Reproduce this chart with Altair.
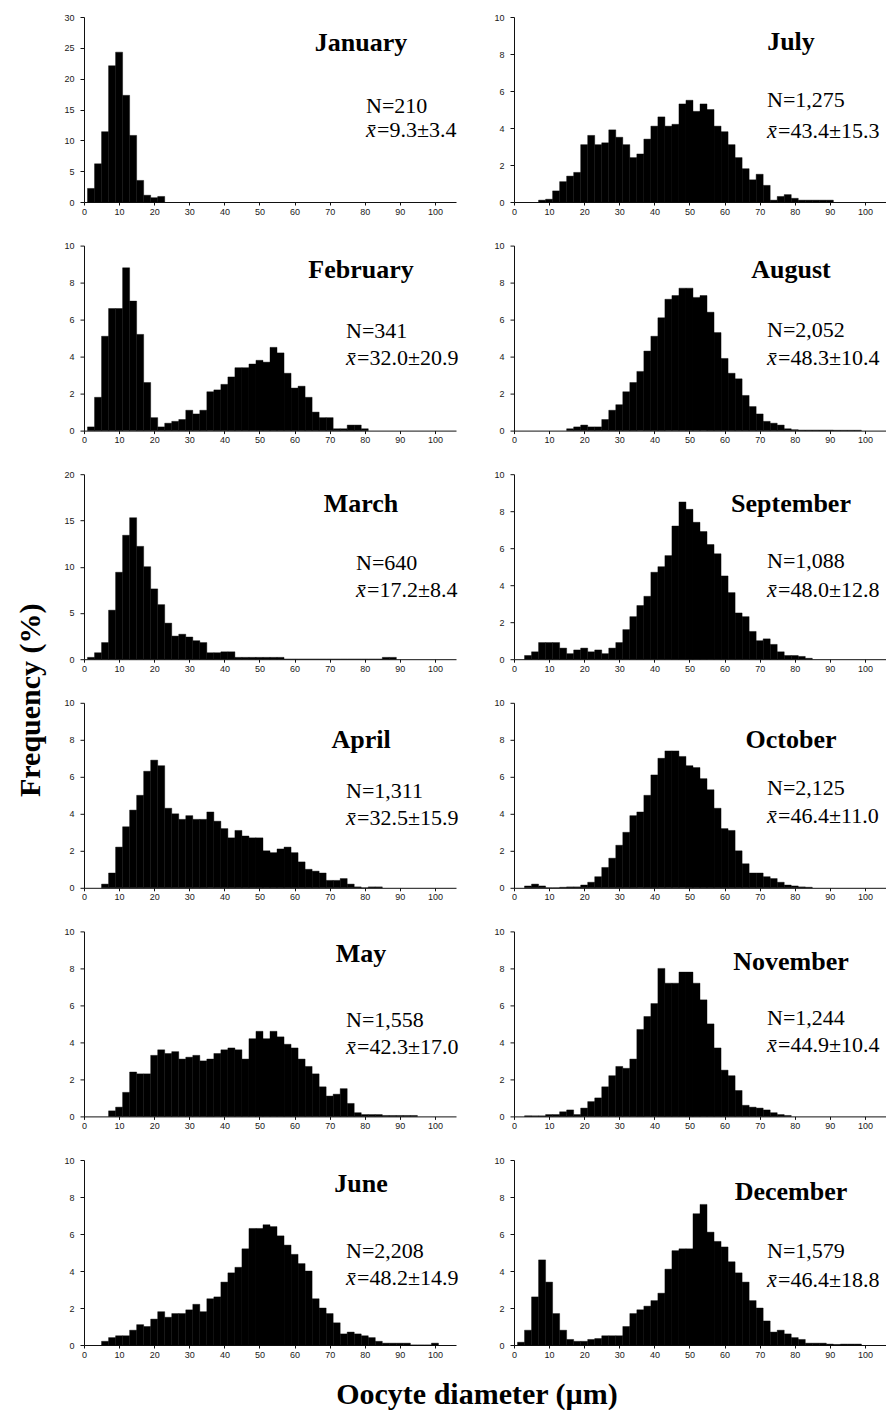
import altair as alt
import pandas as pd

# ---------------- data (percent frequency per 2-µm class; first class centre given) ----------------
months = ["January", "February", "March", "April", "May", "June",
          "July", "August", "September", "October", "November", "December"]

jan_start = 2
jan = [2.2, 6.2, 11.4, 22.1, 24.3, 17.3, 10.8, 3.5, 1.1, 0.7, 0.9]

feb_start = 2
feb = [0.2, 1.8, 5.1, 6.6, 6.6, 8.8, 7.0, 5.2, 2.6, 0.7, 0.2, 0.4, 0.5, 0.6, 1.1, 0.9, 1.1,
       2.1, 2.2, 2.5, 2.9, 3.4, 3.4, 3.6, 3.8, 3.7, 4.5, 4.2, 3.1, 2.3, 2.4, 1.8, 1.0, 0.7,
       0.7, 0.1, 0.1, 0.3, 0.3, 0.1]

mar_start = 2
mar = [0.2, 0.7, 1.8, 5.3, 9.4, 13.4, 15.3, 12.2, 10.0, 7.6, 5.9, 3.9, 2.5, 2.7, 2.4, 2.0,
       1.8, 0.7, 0.7, 0.8, 0.8, 0.2, 0.2, 0.2, 0.2, 0.2, 0.2, 0.2, 0, 0, 0, 0, 0, 0, 0, 0,
       0, 0, 0, 0, 0, 0, 0.2, 0.2]

apr_start = 6
apr = [0.2, 0.8, 2.2, 3.3, 4.2, 5.0, 6.3, 6.9, 6.6, 4.3, 4.0, 3.7, 3.9, 3.7, 3.7, 4.1, 3.6,
       3.2, 2.7, 3.1, 2.8, 2.7, 2.7, 2.0, 1.9, 2.1, 2.2, 1.9, 1.4, 1.0, 0.9, 0.8, 0.4, 0.4,
       0.5, 0.2, 0.05, 0.0, 0.05, 0.05]

may_start = 8
may = [0.3, 0.5, 1.3, 2.4, 2.3, 2.3, 3.3, 3.6, 3.4, 3.5, 3.1, 3.2, 3.3, 3.0, 3.1, 3.4, 3.6,
       3.7, 3.6, 3.1, 4.2, 4.6, 4.2, 4.6, 4.3, 3.9, 3.7, 3.1, 2.7, 2.3, 1.6, 1.1, 1.2, 1.5,
       0.7, 0.2, 0.1, 0.1, 0.1, 0.05, 0.05, 0.05, 0.05, 0.05]

jun_start = 6
jun = [0.2, 0.4, 0.5, 0.5, 0.8, 1.1, 1.0, 1.4, 1.8, 1.5, 1.7, 1.7, 1.9, 2.2, 1.8, 2.5, 2.6,
       3.4, 3.9, 4.2, 5.2, 6.3, 6.3, 6.5, 6.4, 5.9, 5.4, 4.9, 4.4, 4.0, 2.5, 2.0, 1.7, 1.2,
       0.6, 0.7, 0.6, 0.5, 0.4, 0.2, 0.1, 0.1, 0.1, 0.1, 0, 0, 0, 0.1]

jul_start = 8
jul = [0.1, 0.15, 0.6, 1.1, 1.4, 1.6, 3.1, 3.6, 3.1, 3.2, 3.9, 3.5, 3.1, 2.4, 2.6, 3.4, 4.1,
       4.6, 4.1, 4.2, 5.3, 5.5, 4.9, 5.3, 5.0, 4.1, 3.8, 3.1, 2.4, 1.8, 1.2, 1.5, 0.9, 0.1,
       0.3, 0.4, 0.2, 0.1, 0.1, 0.1, 0.1, 0.1]

aug_start = 16
aug = [0.1, 0.2, 0.3, 0.2, 0.2, 0.6, 1.1, 1.4, 2.1, 2.6, 3.2, 4.3, 5.1, 6.1, 7.1, 7.3, 7.7,
       7.7, 7.2, 7.3, 6.4, 5.3, 3.9, 3.1, 2.8, 1.9, 1.3, 0.9, 0.5, 0.4, 0.3, 0.1, 0.05, 0.03,
       0.03, 0.03, 0.03, 0.03, 0.02, 0.02, 0.02, 0.02]

sep_start = 4
sep = [0.2, 0.4, 0.9, 0.9, 0.9, 0.6, 0.3, 0.5, 0.6, 0.4, 0.5, 0.3, 0.6, 0.9, 1.6, 2.3, 2.9,
       3.4, 4.7, 5.0, 5.6, 7.2, 8.5, 8.1, 7.4, 6.9, 6.2, 5.7, 4.5, 3.6, 2.5, 2.3, 1.5, 1.0,
       1.1, 0.8, 0.4, 0.2, 0.2, 0.15, 0.05]

oct_start = 4
oct_ = [0.1, 0.2, 0.1, 0, 0, 0.03, 0.05, 0.05, 0.15, 0.3, 0.6, 1.1, 1.6, 2.3, 3.0, 3.9, 4.1,
        5.0, 6.1, 7.0, 7.4, 7.4, 7.1, 6.6, 6.5, 5.9, 5.3, 4.3, 3.2, 3.1, 2.0, 1.3, 0.8, 0.8,
        0.6, 0.5, 0.3, 0.15, 0.1, 0.05, 0.03]

nov_start = 4
nov = [0.03, 0.03, 0.03, 0.1, 0.1, 0.25, 0.35, 0.1, 0.45, 0.8, 1.0, 1.6, 2.2, 2.7, 2.6, 3.1,
       4.7, 5.4, 6.1, 8.0, 7.2, 7.2, 7.8, 7.8, 7.2, 6.3, 5.0, 3.7, 2.5, 2.2, 1.4, 0.6, 0.5,
       0.45, 0.35, 0.2, 0.1, 0.05]

dec_start = 2
dec = [0.15, 0.8, 2.6, 4.6, 3.4, 1.7, 0.8, 0.3, 0.2, 0.2, 0.3, 0.35, 0.5, 0.5, 0.5, 1.0, 1.7,
       1.9, 2.1, 2.4, 2.8, 4.1, 5.1, 5.2, 5.2, 7.1, 7.6, 6.1, 5.6, 5.3, 4.5, 3.9, 3.4, 2.4,
       2.0, 1.3, 0.7, 0.8, 0.6, 0.4, 0.3, 0.1, 0.1, 0.1, 0.05, 0.03, 0.05, 0.05, 0.05]

starts = [jan_start, feb_start, mar_start, apr_start, may_start, jun_start,
          jul_start, aug_start, sep_start, oct_start, nov_start, dec_start]
series = [jan, feb, mar, apr, may, jun, jul, aug, sep, oct_, nov, dec]

n_labels = ["N=210", "N=341", "N=640", "N=1,311", "N=1,558", "N=2,208",
            "N=1,275", "N=2,052", "N=1,088", "N=2,125", "N=1,244", "N=1,579"]
mean_labels = ["=9.3±3.4", "=32.0±20.9", "=17.2±8.4", "=32.5±15.9", "=42.3±17.0", "=48.2±14.9",
               "=43.4±15.3", "=48.3±10.4", "=48.0±12.8", "=46.4±11.0", "=44.9±10.4", "=46.4±18.8"]
y_max = [30, 10, 20, 10, 10, 10, 10, 10, 10, 10, 10, 10]
x_ticks = list(range(0, 101, 10))

# ---------------- layout (pixels inside each panel) ----------------
PLOT_W = 372
PLOT_H = 185
X_MAX = 106
title_x = 277
title_y = [34, 32, 38, 45, 31, 32, 33, 32, 38, 45, 39, 40]
stat_x = [282, 262, 272, 262, 262, 262, 253, 253, 253, 253, 253, 253]
n_y = [96, 92, 96, 95, 96, 98, 90, 91, 94, 92, 94, 98]
m_y = [120, 119, 123, 122, 123, 125, 121, 119, 123, 120, 121, 127]

SERIF = "Liberation Serif"
SANS = "Liberation Sans"


def txt(label, **kw):
    return alt.Chart(pd.DataFrame({"t": [label]})).mark_text(**kw)


def panel(i):
    start, vals = starts[i], series[i]
    df = pd.DataFrame({
        "lo": [start - 1 + 2 * k for k in range(len(vals))],
        "hi": [start + 1 + 2 * k for k in range(len(vals))],
        "pct": vals,
        "base": [0] * len(vals),
    })
    step = 5 if y_max[i] > 10 else 2
    bars = alt.Chart(df).mark_rect(color="black", stroke="black", strokeWidth=0.4).encode(
        x=alt.X("lo:Q", title=None,
                scale=alt.Scale(domain=[0, X_MAX], nice=False, zero=False),
                axis=alt.Axis(values=x_ticks, tickSize=3, labelPadding=2, labelFontSize=9,
                              labelFont=SANS, labelColor="#1a1a1a", domainColor="#111",
                              tickColor="#111", grid=False, labelFlush=False)),
        x2="hi:Q",
        y=alt.Y("pct:Q", title=None,
                scale=alt.Scale(domain=[0, y_max[i]], nice=False),
                axis=alt.Axis(values=list(range(0, y_max[i] + 1, step)), tickSize=4,
                              labelPadding=6, labelFontSize=9, labelFont=SANS,
                              labelColor="#1a1a1a", domainColor="#111", tickColor="#111",
                              grid=False)),
        y2="base:Q",
    )
    layers = [bars]
    layers.append(txt(months[i], font=SERIF, fontSize=26, fontWeight="bold", align="center",
                      baseline="alphabetic", color="black").encode(
        text="t:N", x=alt.value(title_x), y=alt.value(title_y[i])))
    layers.append(txt(n_labels[i], font=SERIF, fontSize=22, align="left",
                      baseline="alphabetic", color="black").encode(
        text="t:N", x=alt.value(stat_x[i]), y=alt.value(n_y[i])))
    layers.append(txt("x\u0304", font=SERIF, fontSize=22, fontStyle="italic", align="left",
                      baseline="alphabetic", color="black").encode(
        text="t:N", x=alt.value(stat_x[i]), y=alt.value(m_y[i])))
    layers.append(txt(mean_labels[i], font=SERIF, fontSize=22, align="left",
                      baseline="alphabetic", color="black").encode(
        text="t:N", x=alt.value(stat_x[i] + 11), y=alt.value(m_y[i])))
    if months[i] == "March":
        layers.append(txt("Frequency (%)", font=SERIF, fontSize=30, fontWeight="bold",
                          angle=270, align="center", baseline="middle", color="black").encode(
            text="t:N", x=alt.value(-53), y=alt.value(226)))
    if months[i] == "June":
        layers.append(txt("Oocyte diameter (µm)", font=SERIF, fontSize=30, fontWeight="bold",
                          align="center", baseline="alphabetic", color="black").encode(
            text="t:N", x=alt.value(393), y=alt.value(244)))
    return alt.layer(*layers).properties(width=PLOT_W, height=PLOT_H)


order = []
for r in range(6):
    order += [r, r + 6]
chart = alt.concat(*[panel(i) for i in order], columns=2,
                   spacing={"row": 43.6, "column": 58}, bounds="flush").properties(
    padding={"left": 16, "top": 13, "right": 0, "bottom": 0}
).configure_view(stroke=None)

chart.save("out.html", embed_options={"renderer": "svg", "actions": False})
